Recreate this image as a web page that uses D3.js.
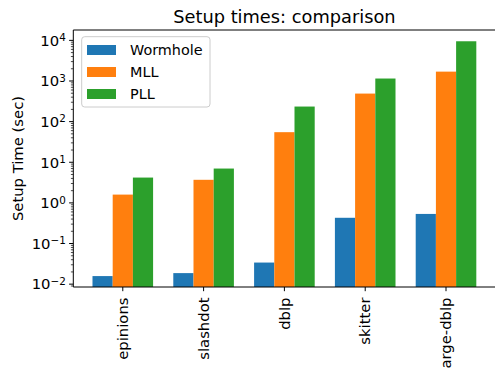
<!DOCTYPE html>
<html><head><meta charset="utf-8">
<script src="https://cdn.jsdelivr.net/npm/d3@7"></script>
<style>
body{margin:0;background:#fff;}
svg{display:block;font-family:"DejaVu Sans",sans-serif;}
</style></head>
<body>
<svg id="c" width="495" height="370"></svg>
<script>
const categories = ["epinions","slashdot","dblp","skitter","large-dblp"];
const seriesNames = ["Wormhole","MLL","PLL"];
const wormhole = [0.0158, 0.0187, 0.034, 0.43, 0.535];
const mll = [1.6, 3.7, 55, 490, 1700];
const pll = [4.2, 7.0, 235, 1150, 9500];
const colors = ["#1f77b4","#ff7f0e","#2ca02c"];
const yTickExps = [-2,-1,0,1,2,3,4];
const title = "Setup times: comparison";
const yLabel = "Setup Time (sec)";

const series = [wormhole, mll, pll];
const svg = d3.select("#c");
const L = 73.3, R = 495.5, T = 30, B = 287;
const barW = 0.25;
const x = d3.scaleLinear().domain([-0.6125, 4.6125]).range([L, R]);
const y = d3.scaleLog().domain([Math.pow(10,-2.07), Math.pow(10,4.255)]).range([B, T]);

svg.append("clipPath").attr("id","clip").append("rect")
  .attr("x",L).attr("y",T).attr("width",R-L).attr("height",B-T);

const g = svg.append("g").attr("clip-path","url(#clip)");
series.forEach((vals, j) => {
  g.selectAll(null).data(vals).enter().append("rect")
    .attr("x", (d,i) => x(i + (j-1)*barW - barW/2))
    .attr("width", (d,i) => x(i + (j-1)*barW + barW/2) - x(i + (j-1)*barW - barW/2))
    .attr("y", d => y(d))
    .attr("height", d => B - y(d) + 5)
    .attr("fill", colors[j]);
});

// spines
const sp = svg.append("g").attr("stroke","#000").attr("stroke-width",1).attr("fill","none");
sp.append("line").attr("x1",L).attr("x2",L).attr("y1",T).attr("y2",B);
sp.append("line").attr("x1",L).attr("x2",R).attr("y1",B).attr("y2",B);
sp.append("line").attr("x1",L).attr("x2",R).attr("y1",T).attr("y2",T);
sp.append("line").attr("x1",R).attr("x2",R).attr("y1",T).attr("y2",B);

// y ticks
const fs = 14.8;
const ax = svg.append("g");
const addMinor = (mv) => {
  if (mv <= y.domain()[1] && mv >= y.domain()[0]) {
    const my = y(mv);
    ax.append("line").attr("x1",L-2.4).attr("x2",L).attr("y1",my).attr("y2",my).attr("stroke","#000").attr("stroke-width",0.7);
  }
};
[8,9].forEach(k => addMinor(k*0.001));
yTickExps.forEach(e => {
  const v = Math.pow(10,e);
  const yy = y(v);
  ax.append("line").attr("x1",L-4.2).attr("x2",L).attr("y1",yy).attr("y2",yy).attr("stroke","#000");
  const t = ax.append("text").attr("x",L-7.5).attr("y",yy).attr("dy","0.36em")
    .attr("text-anchor","end").attr("font-size",fs).attr("fill","#000");
  t.append("tspan").text("10");
  t.append("tspan").attr("dy","-0.45em").attr("font-size",fs*0.7).text(e<0 ? "\u2212"+Math.abs(e) : String(e));
  for (let k=2;k<=9;k++) addMinor(k*v);
});

// x ticks
categories.forEach((c,i) => {
  const xx = x(i);
  ax.append("line").attr("x1",xx).attr("x2",xx).attr("y1",B).attr("y2",B+4.2).attr("stroke","#000");
  ax.append("text").attr("transform",`translate(${xx},${B+10.5}) rotate(-90)`)
    .attr("text-anchor","end").attr("dy","0.35em").attr("font-size",fs).attr("fill","#000").text(c);
});

// title
svg.append("text").attr("x",(L+R)/2).attr("y",23).attr("text-anchor","middle")
  .attr("font-size",17.8).attr("fill","#000").text(title);
// y label
svg.append("text").attr("transform",`translate(22.5,${(T+B)/2}) rotate(-90)`)
  .attr("text-anchor","middle").attr("font-size",fs).attr("fill","#000").text(yLabel);

// legend
const lg = svg.append("g");
lg.append("rect").attr("x",81.7).attr("y",36.7).attr("width",128.3).attr("height",70.3)
  .attr("rx",3).attr("fill","#fff").attr("fill-opacity",0.8).attr("stroke","#cccccc").attr("stroke-width",1);
seriesNames.forEach((n,j) => {
  const cy = 50 + j*22;
  lg.append("rect").attr("x",87).attr("y",cy-5).attr("width",29).attr("height",10).attr("fill",colors[j]);
  lg.append("text").attr("x",130).attr("y",cy).attr("dy","0.36em").attr("font-size",14.4).attr("fill","#000").text(n);
});
</script>
</body></html>
